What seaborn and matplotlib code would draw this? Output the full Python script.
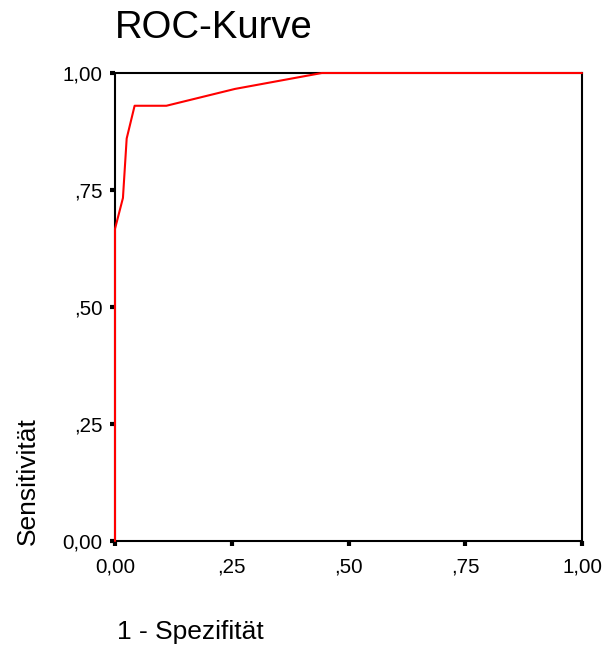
import matplotlib
matplotlib.use("Agg")
import matplotlib.pyplot as plt
import seaborn as sns
import pandas as pd

fpr = [0.0, 0.0, 0.017, 0.025, 0.042, 0.11, 0.257, 0.443, 1.0]
tpr = [0.0, 0.667, 0.733, 0.86, 0.93, 0.93, 0.966, 1.0, 1.0]
tick_vals = [0.0, 0.25, 0.5, 0.75, 1.0]
tick_labels = ["0,00", ",25", ",50", ",75", "1,00"]

sns.set_theme(style="white")
plt.rcParams['font.family'] = ['Liberation Sans', 'DejaVu Sans']
plt.rcParams['text.color'] = 'black'

fig = plt.figure(figsize=(6.06, 6.49), dpi=100)
ax = fig.add_axes([115/606, 108/649, 467/606, 468/649])

df = pd.DataFrame({"fpr": fpr, "tpr": tpr})
sns.lineplot(data=df, x="fpr", y="tpr", sort=False, estimator=None,
             color="#ff0000", linewidth=1.5, ax=ax, zorder=3)
for ln in ax.lines:
    ln.set_clip_on(False)

ax.set_xlim(0, 1)
ax.set_ylim(0, 1)
ax.set_xticks(tick_vals)
ax.set_xticklabels(tick_labels, fontsize=14.8)
ax.set_yticks(tick_vals)
ax.set_yticklabels(tick_labels, fontsize=14.8)
ax.tick_params(axis="both", direction="out", length=3.5, width=3, color="black",
               labelcolor="black", bottom=True, left=True)
ax.tick_params(axis="y", pad=5.5)
ax.tick_params(axis="x", pad=8.5)
for s in ax.spines.values():
    s.set_color("black")
    s.set_linewidth(1.5)
    s.set_zorder(2)

ax.set_xlabel("")
ax.set_ylabel("")
fig.text(117/606, 1 - 632/649, "1 - Spezifität", fontsize=19, ha="left", va="center", color="black")
fig.text(28/606, 1 - 545/649, "Sensitivität", fontsize=19, rotation=90,
         ha="center", va="bottom", color="black")
fig.text(115/606, 1 - 28/649, "ROC-Kurve", fontsize=27.5, ha="left", va="center", color="black")

fig.savefig("out.png", dpi=100)
